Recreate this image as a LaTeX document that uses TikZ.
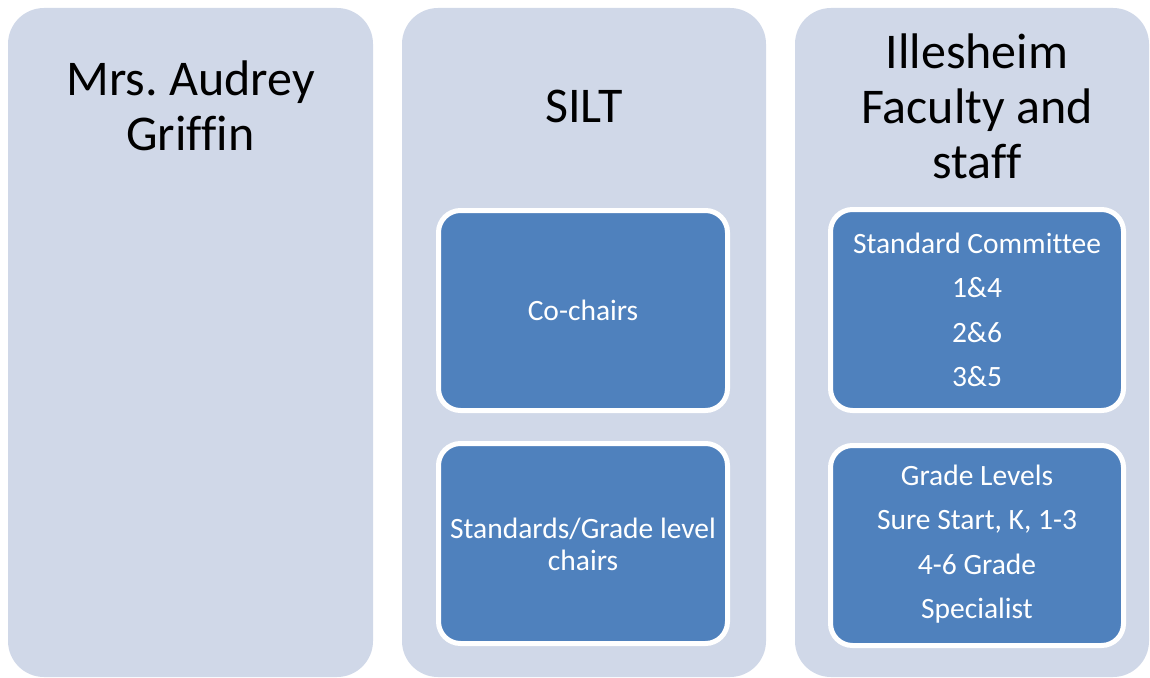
\documentclass[tikz,border=0pt]{standalone}
\usepackage{fontspec}
\setmainfont{Carlito}[Ligatures={NoCommon}]
\frenchspacing
\definecolor{colbg}{HTML}{D0D8E8}
\definecolor{boxbg}{HTML}{4F81BD}
\begin{document}
\begin{tikzpicture}[x=1pt,y=-1pt,
  column/.style={fill=colbg, rounded corners=36pt},
  inbox/.style={fill=boxbg, draw=white, line width=5pt, rounded corners=22pt},
  title/.style={font=\fontsize{50}{55}\selectfont, align=center, text=black, inner sep=0pt},
  intext/.style={font=\fontsize{29.5}{32}\selectfont, align=center, text=white, inner sep=0pt},
  listtext/.style={font=\fontsize{29.5}{44.5}\selectfont, align=center, text=white, inner sep=0pt}]
\useasboundingbox (0,0) rectangle (1150,677);
\begin{scope}
\clip (0,0) rectangle (1150,677);
\fill[column] (8,8) rectangle (373,677);
\fill[column] (402,8) rectangle (766,677);
\fill[column] (795,8) rectangle (1149,677);
\end{scope}
\node[title] (t1) at (190.5,106) {Mrs.\ Audrey\\Griffin};
\node[title] (t2) at (584,106) {SILT};
\node[title] (t3) at (977,106) {Illesheim\\Faculty and\\staff};
\draw[inbox] (438.5,210.5) rectangle (727.5,410.5);
\node[intext] (b1) at (583,310) {Co-chairs};
\draw[inbox] (438.5,443.5) rectangle (727.5,643.5);
\node[intext] (b2) at (583,544) {Standards/Grade level\\chairs};
\draw[inbox] (830.5,209.5) rectangle (1123.5,410.5);
\node[listtext] (b3) at (977,310) {Standard Committee\\1\&4\\2\&6\\3\&5};
\draw[inbox] (830.5,445.5) rectangle (1123.5,645.5);
\node[listtext] (b4) at (977,544) {Grade Levels\\Sure Start, K, 1-3\\4-6 Grade\\Specialist};
\end{tikzpicture}
\end{document}
